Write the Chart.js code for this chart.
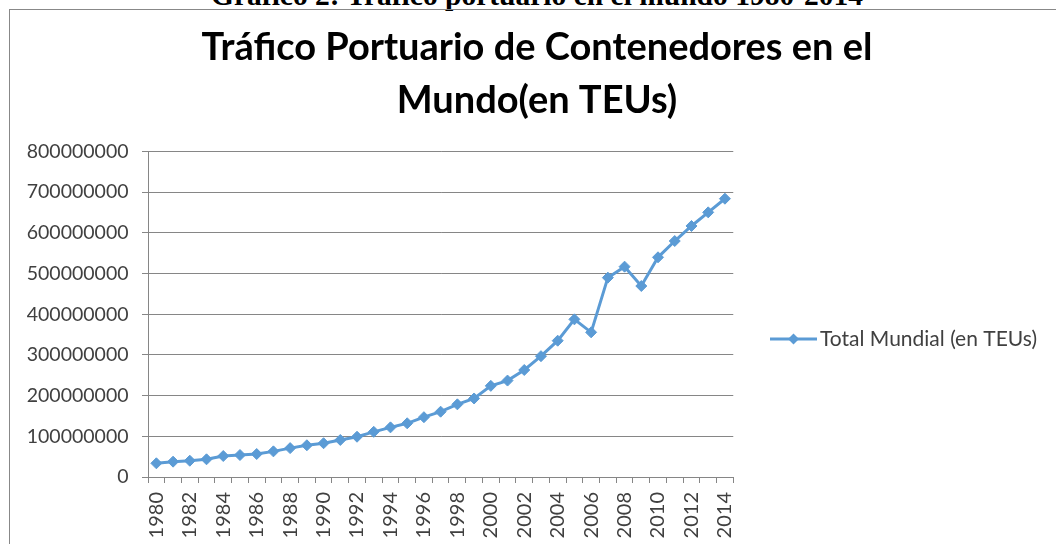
<!DOCTYPE html>
<html>
<head>
<meta charset="utf-8">
<script src="https://cdn.jsdelivr.net/npm/chart.js@4"></script>
<style>
  body { margin: 0; background: #fff; width: 1056px; height: 544px; overflow: hidden; position: relative; }
  .caption { position: absolute; left: 0; top: -19px; width: 1074px; text-align: center;
             font: bold 29.5px "Liberation Serif", "Times New Roman", serif; line-height: 29px; color: #000; }
  .frame { position: absolute; left: 9px; top: 9px; width: 1100px; height: 600px; border: 1px solid #888; }
  #chart { position: absolute; left: 0; top: 0; }
</style>
</head>
<body>
<div class="caption">Gráfico 2: Tráfico portuario en el mundo 1980-2014</div>
<div class="frame"></div>
<canvas id="chart" width="1056" height="544"></canvas>
<script>
const years = ['1980', '1981', '1982', '1983', '1984', '1985', '1986', '1987', '1988', '1989',
    '1990', '1991', '1992', '1993', '1994', '1995', '1996', '1997', '1998', '1999',
    '2000', '2001', '2002', '2003', '2004', '2005', '2006', '2007', '2008', '2009',
    '2010', '2011', '2012', '2013', '2014'];
const totalMundial = [33700000, 37700000, 40000000, 43500000, 51600000, 54000000, 56500000, 63000000, 71000000, 78000000,
    83000000, 91000000, 99000000, 111000000, 122000000, 132000000, 147000000, 160500000, 178600000, 193000000,
    224000000, 237000000, 263000000, 297000000, 335000000, 387500000, 355600000, 490000000, 517000000, 469400000,
    540000000, 580000000, 617000000, 650500000, 684000000];
const titleLines = ['Tráfico Portuario de Contenedores en el', 'Mundo(en TEUs)'];
const seriesName = 'Total Mundial (en TEUs)';

const blue = '#5B9BD5';
const gridGray = '#868686';
const textGray = '#404040';

// legend icon: line with a diamond in the middle, like the Excel one
const makeLegendIcon = () => {
    const icon = document.createElement('canvas');
    icon.width = 47;
    icon.height = 14;
    const ctx = icon.getContext('2d');
    ctx.strokeStyle = blue;
    ctx.lineWidth = 3;
    ctx.beginPath();
    ctx.moveTo(0, 7);
    ctx.lineTo(47, 7);
    ctx.stroke();
    ctx.fillStyle = blue;
    ctx.beginPath();
    ctx.moveTo(23.5, 1.5);
    ctx.lineTo(29, 7);
    ctx.lineTo(23.5, 12.5);
    ctx.lineTo(18, 7);
    ctx.closePath();
    ctx.fill();
    return icon;
}

// the right legend spans the whole height; push its top down so the item
// is centred where Excel put it
const legendShift = {
    id: 'legendShift',
    afterLayout: (chart) => {
        chart.legend.top += 124;
    }
};

const ctx = document.getElementById('chart').getContext('2d');
const chart = new Chart(ctx, {
    type: 'line',
    data: {
        labels: years,
        datasets: [
            {
                label: seriesName,
                data: totalMundial,
                borderColor: blue,
                backgroundColor: blue,
                borderWidth: 3,
                pointStyle: 'rectRot',
                pointRadius: 5.5,
                pointBorderWidth: 1,
                tension: 0,
            },
        ],
    },
    options: {
        responsive: false,
        animation: false,
        layout: {
            padding: { top: 10, left: 27, right: 9, bottom: 0 }
        },
        plugins: {
            title: {
                display: true,
                text: titleLines,
                color: '#000',
                font: { family: 'Lato', weight: 'bold', size: 38, lineHeight: 1.395 },
                padding: { top: 11, bottom: 24.5 }
            },
            legend: {
                position: 'right',
                align: 'center',
                maxWidth: 400,
                labels: {
                    usePointStyle: true,
                    pointStyle: makeLegendIcon(),
                    pointStyleWidth: 32,
                    padding: 44.2,
                    color: textGray,
                    font: { family: 'Lato', size: 21 }
                }
            },
            tooltip: { enabled: false }
        },
        scales: {
            x: {
                offset: true,
                grid: {
                    offset: true,
                    drawOnChartArea: false,
                    drawTicks: true,
                    tickLength: 6,
                    color: gridGray
                },
                border: { display: true, color: gridGray },
                ticks: {
                    autoSkip: false,
                    maxRotation: 90,
                    minRotation: 90,
                    padding: 9,
                    color: textGray,
                    font: { family: 'Lato', size: 20 },
                    callback: (value, index) => index % 2 === 0 ? years[index] : ''
                },
                afterFit: (scale) => { scale.height = 67; }
            },
            y: {
                min: 0,
                max: 800000000,
                grid: {
                    color: gridGray,
                    drawTicks: true,
                    tickLength: 6
                },
                border: { display: true, color: gridGray },
                ticks: {
                    stepSize: 100000000,
                    padding: 13.5,
                    color: textGray,
                    font: { family: 'Lato', size: 19.5 },
                    callback: (value) => String(value)
                },
                afterFit: (scale) => { scale.width = 121; }
            }
        }
    },
    plugins: [legendShift]
});
</script>
</body>
</html>
